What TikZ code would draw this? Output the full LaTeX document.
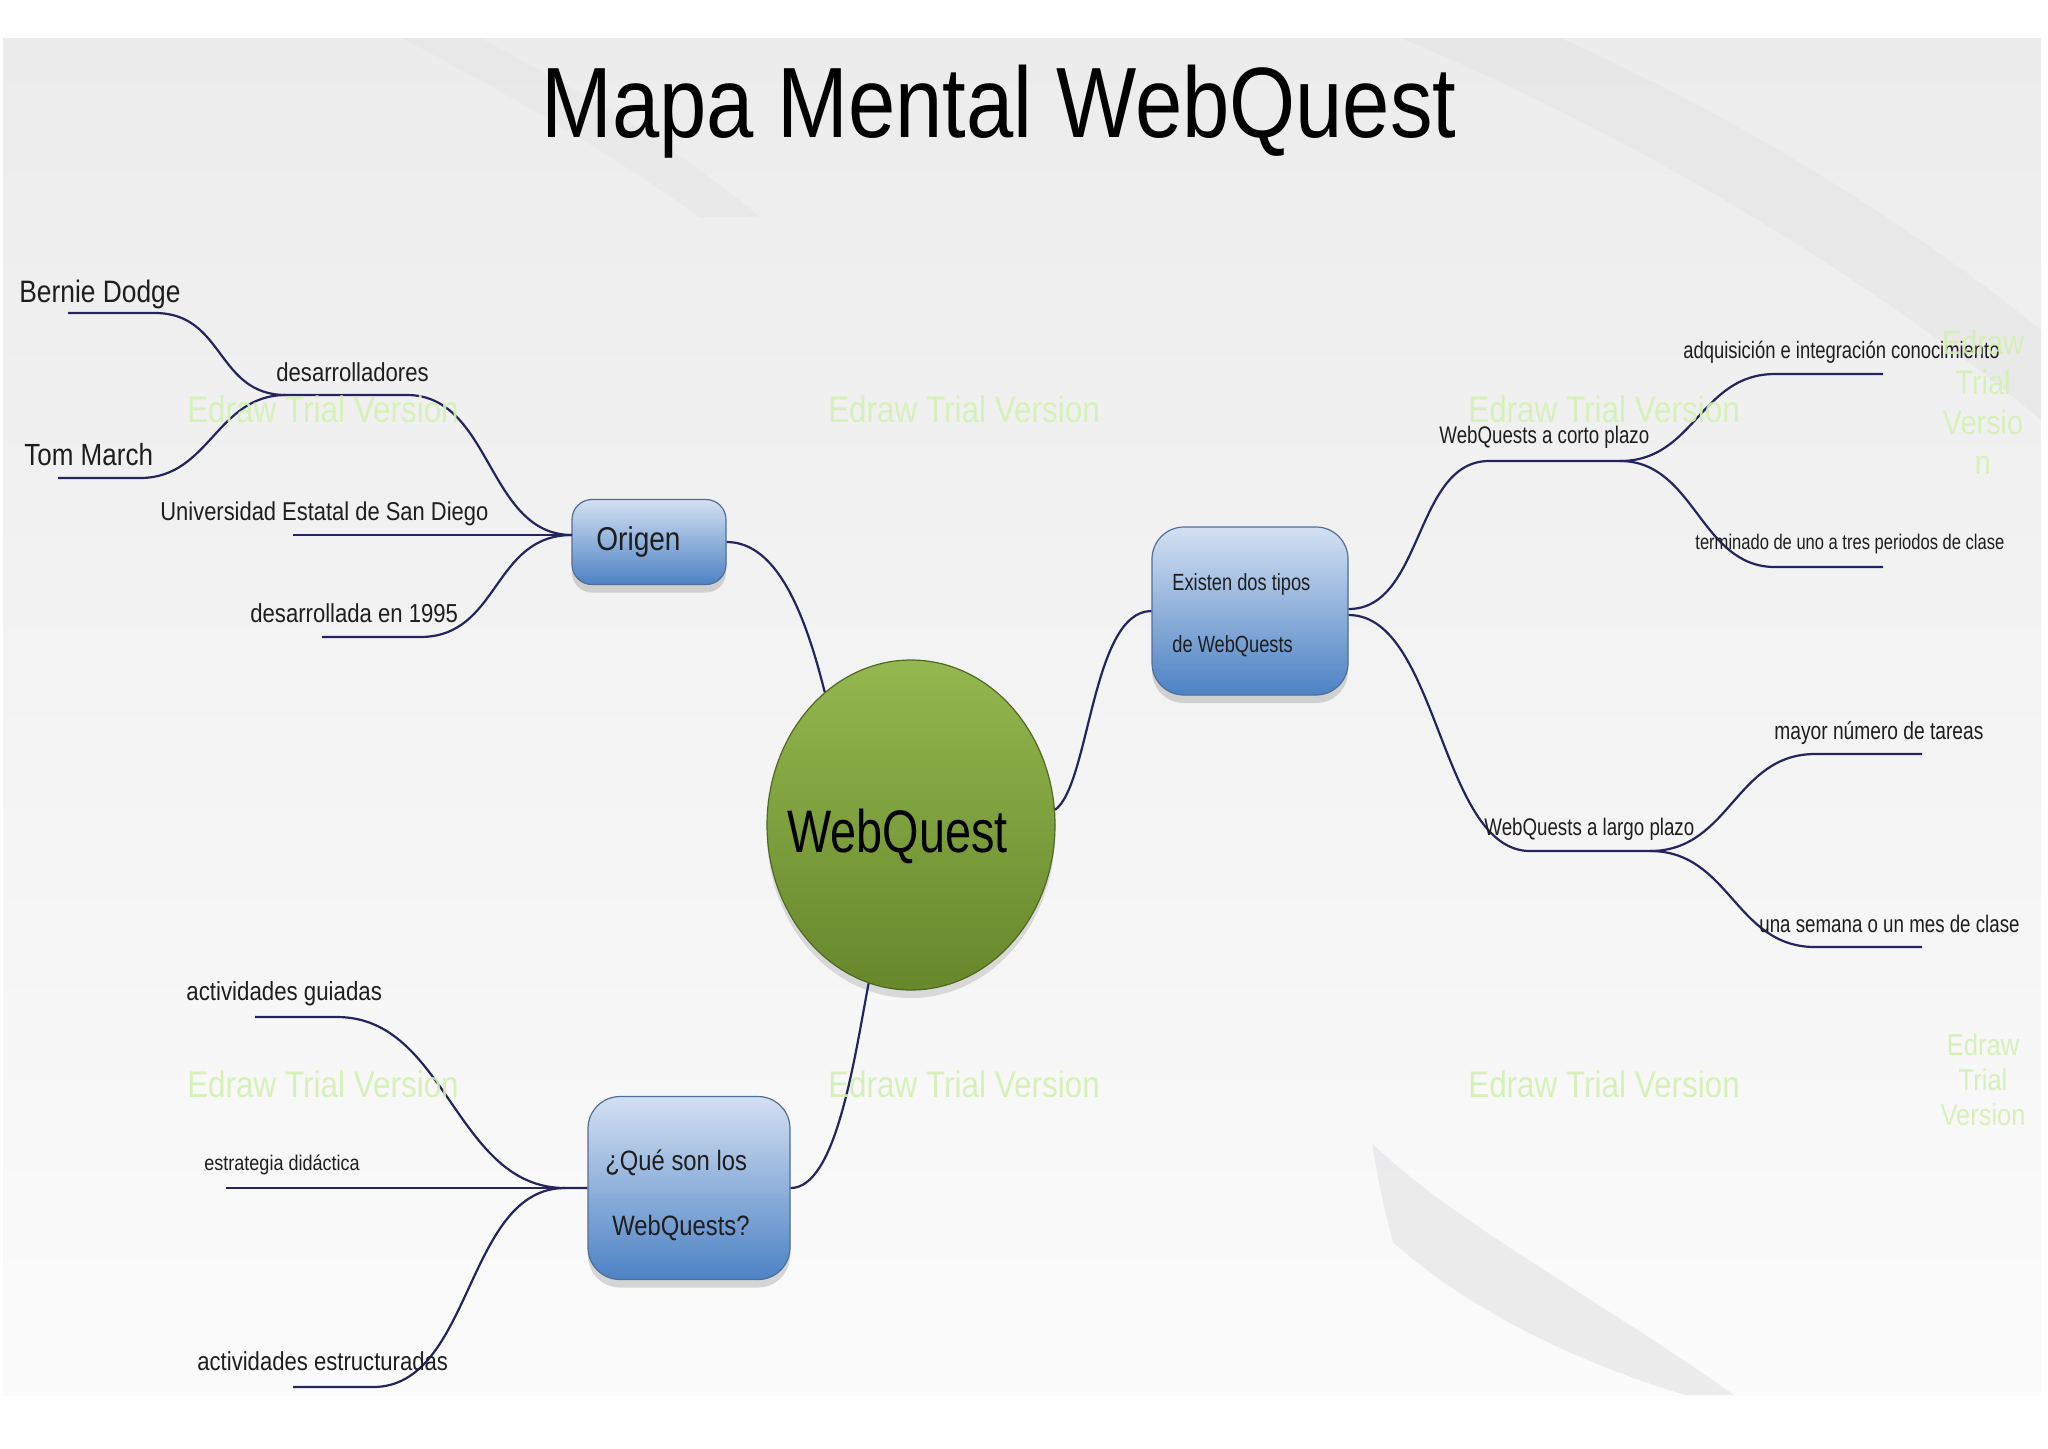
\documentclass[tikz,border=0pt]{standalone}
\usepackage{fontspec}
\setmainfont{Liberation Sans}
\newfontfamily\fA[FakeStretch=0.85]{Liberation Sans}
\newfontfamily\fB[FakeStretch=0.78]{Liberation Sans}
\usetikzlibrary{shapes.geometric,shadows}
\newcommand{\fz}[1]{\fontsize{#1pt}{#1pt}\selectfont}
\definecolor{linec}{HTML}{24245E}
\definecolor{txt}{HTML}{1E1E1E}
\definecolor{wm}{HTML}{D3F0B2}
\definecolor{bgA}{HTML}{ECECEC}
\definecolor{bgB}{HTML}{FBFBFB}
\definecolor{swA}{HTML}{E2E2E4}
\definecolor{boxT}{HTML}{D3E0F2}
\definecolor{boxB}{HTML}{4C82C4}
\definecolor{boxD}{HTML}{506E96}
\definecolor{olT}{HTML}{94B74F}
\definecolor{olB}{HTML}{67872B}
\definecolor{olD}{HTML}{4E6922}
\begin{document}
\begin{tikzpicture}[x=0.5pt,y=-0.5pt,
 conn/.style={draw=linec, line width=1.1pt},
 lbl/.style={anchor=base west, inner sep=0pt, text=txt, font=\fA},
 lblR/.style={anchor=base west, inner sep=0pt, text=txt, font=\fB},
 boxnode/.style={rectangle, rounded corners=#1, draw=boxD, line width=0.6pt,
   top color=boxT, bottom color=boxB, inner sep=0pt,
   drop shadow={shadow xshift=0pt, shadow yshift=-4pt, opacity=0.3}},
 wmark/.style={text=wm, align=center, inner sep=0pt, opacity=0.9}
]
\useasboundingbox (0,0) rectangle (2048,1448);
\fill[white] (0,0) rectangle (2048,1448);
% background
\shade[top color=bgA, bottom color=bgB] (3,38) rectangle (2041,1395);
\fill[swA, opacity=0.45] (1400,38) .. controls (1600,120) and (1850,260) .. (2041,420)
  -- (2041,330) .. controls (1880,200) and (1700,100) .. (1560,38) -- cycle;
\fill[swA, opacity=0.35] (402,38) .. controls (520,100) and (620,160) .. (700,217)
  -- (760,217) .. controls (680,150) and (580,90) .. (480,38) -- cycle;
\fill[swA, opacity=0.6] (1372,1143) .. controls (1380,1190) .. (1393,1242)
  .. controls (1480,1320) and (1600,1370) .. (1686,1395) -- (1734,1395)
  .. controls (1600,1300) and (1450,1220) .. (1372,1143) -- cycle;

% title
\node[lbl, text=black] (title) at (541,137) {\fz{50}Mapa Mental WebQuest};

% main nodes
\node[ellipse, minimum width=144pt, minimum height=165pt, inner sep=0pt, draw=olD,
  line width=0.6pt, top color=olT, bottom color=olB,
  drop shadow={shadow xshift=0pt, shadow yshift=-4pt, opacity=0.25}] (wq) at (911,825) {};
\node[lblR, text=black] (wqt) at (787,852) {\fz{30}WebQuest};

\node[boxnode=10pt, minimum width=77pt, minimum height=42.5pt] (origen) at (649,542) {};
\node[lbl] (origent) at (596,550) {\fz{16.5}Origen};

\node[boxnode=16pt, minimum width=98pt, minimum height=84pt] (tipos) at (1250,611) {};
\node[lblR] (tipos1) at (1172,590) {\fz{11.7}Existen dos tipos};
\node[lblR] (tipos2) at (1172,652) {\fz{11.7}de WebQuests};

\node[boxnode=16pt, minimum width=101pt, minimum height=91.5pt] (que) at (689,1188) {};
\node[lbl] (que1) at (605,1170) {\fz{14}¿Qué son los};
\node[lbl] (que2) at (612,1235) {\fz{14}WebQuests?};

% connectors centre
\draw[conn] (origen.east) .. controls +(50,0) and +(-20,-80) .. (wq.123);
\draw[conn] (wq.6) .. controls +(35,-25) and +(-60,0) .. (tipos.east -| tipos.west);
\draw[conn] (que.east) .. controls +(45,0) and +(-15,80) .. (wq.255);

% Origen branches
\coordinate (j1) at (572,535);
\coordinate (bdL) at (68,313);  \coordinate (bdR) at (155,313);
\coordinate (tmL) at (58,478);  \coordinate (tmR) at (140,478);
\coordinate (desL) at (286,395); \coordinate (desR) at (407,395);
\coordinate (udL) at (293,535);
\coordinate (d95L) at (322,637); \coordinate (d95R) at (420,637);
\draw[conn] (bdL) -- (bdR) .. controls +(70,0) and +(-70,0) .. (desL);
\draw[conn] (tmL) -- (tmR) .. controls +(70,0) and +(-70,0) .. (desL);
\draw[conn] (desL) -- (desR) .. controls +(85,0) and +(-85,0) .. (j1);
\draw[conn] (udL) -- (j1);
\draw[conn] (d95L) -- (d95R) .. controls +(80,0) and +(-80,0) .. (j1);

\node[lbl] (bd) at (19,302) {\fz{15.5}Bernie Dodge};
\node[lbl] (tm) at (24,465) {\fz{15.3}Tom March};
\node[lbl] (des) at (276,381) {\fz{13}desarrolladores};
\node[lbl] (ud) at (160,520) {\fz{12.9}Universidad Estatal de San Diego};
\node[lbl] (d95) at (250,622) {\fz{13}desarrollada en 1995};

% Que branches
\coordinate (j2) at (565,1188);
\coordinate (agL) at (255,1017); \coordinate (agR) at (337,1017);
\coordinate (edL) at (226,1188);
\coordinate (aeL) at (293,1387); \coordinate (aeR) at (373,1387);
\draw[conn] (agL) -- (agR) .. controls +(110,0) and +(-110,0) .. (j2) -- (que.west);
\draw[conn] (edL) -- (que.west);
\draw[conn] (aeL) -- (aeR) .. controls +(100,0) and +(-100,0) .. (j2);

\node[lbl] (ag) at (186,1000) {\fz{13.1}actividades guiadas};
\node[lbl] (ed) at (204,1170) {\fz{10.6}estrategia didáctica};
\node[lbl] (ae) at (197,1370) {\fz{13}actividades estructuradas};

% right branches
\coordinate (cpL) at (1489,461); \coordinate (cpJ) at (1620,461);
\coordinate (adL) at (1775,374); \coordinate (adR) at (1883,374);
\coordinate (teL) at (1775,567); \coordinate (teR) at (1883,567);
\coordinate (lpL) at (1530,851); \coordinate (lpJ) at (1650,851);
\coordinate (mnL) at (1815,754); \coordinate (mnR) at (1922,754);
\coordinate (smL) at (1815,947); \coordinate (smR) at (1922,947);
\draw[conn] ([yshift=1pt]tipos.east) .. controls +(75,0) and +(-75,0) .. (cpL) -- (cpJ);
\draw[conn] (cpJ) .. controls +(75,0) and +(-75,0) .. (adL) -- (adR);
\draw[conn] (cpJ) .. controls +(75,0) and +(-75,0) .. (teL) -- (teR);
\draw[conn] ([yshift=-2pt]tipos.east) .. controls +(90,0) and +(-90,0) .. (lpL) -- (lpJ);
\draw[conn] (lpJ) .. controls +(80,0) and +(-80,0) .. (mnL) -- (mnR);
\draw[conn] (lpJ) .. controls +(80,0) and +(-80,0) .. (smL) -- (smR);

\node[lblR] (cp) at (1439,443) {\fz{12}WebQuests a corto plazo};
\node[lblR] (ad) at (1683,358) {\fz{11.8}adquisición e integración conocimiento};
\node[lblR] (te) at (1695,549) {\fz{10.6}terminado de uno a tres periodos de clase};
\node[lblR] (lp) at (1484,835) {\fz{12}WebQuests a largo plazo};
\node[lblR] (mn) at (1774,739) {\fz{12.3}mayor número de tareas};
\node[lblR] (sm) at (1759,932) {\fz{12}una semana o un mes de clase};

% watermarks
\foreach \x/\y [count=\i] in {323/409, 964/409, 1604/409, 323/1084, 964/1084, 1604/1084}
  \node[wmark, font=\fA\fz{18.5}] (wm\i) at (\x,\y) {Edraw Trial Version};
\node[wmark, font={\fA\fontsize{17pt}{20pt}\selectfont}] (wmr1) at (1983,402) {Edraw\\Trial\\Versio\\n};
\node[wmark, font={\fA\fontsize{15pt}{17.5pt}\selectfont}] (wmr2) at (1983,1080) {Edraw\\Trial\\Version};
\end{tikzpicture}
\end{document}
